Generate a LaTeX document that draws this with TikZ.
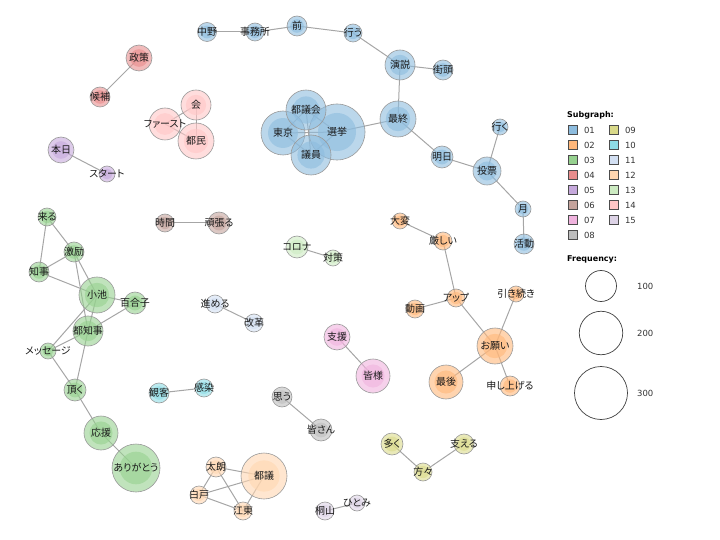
\documentclass[tikz,border=0pt]{standalone}
\usepackage{fontspec}
\newfontfamily\jp[RawFeature=+palt]{Noto Sans CJK JP}
\newfontfamily\legfont{DejaVu Sans}
\usetikzlibrary{positioning,backgrounds}

\definecolor{c01}{HTML}{8DBCDE}
\definecolor{c02}{HTML}{FFB77A}
\definecolor{c03}{HTML}{96D18F}
\definecolor{c04}{HTML}{E88D8D}
\definecolor{c05}{HTML}{C6A9DC}
\definecolor{c06}{HTML}{C4A39C}
\definecolor{c07}{HTML}{F0B3DE}
\definecolor{c08}{HTML}{BDBDBD}
\definecolor{c09}{HTML}{DADA8A}
\definecolor{c10}{HTML}{8EDCE5}
\definecolor{c11}{HTML}{D2DFF2}
\definecolor{c12}{HTML}{FFD6B0}
\definecolor{c13}{HTML}{CDEBC2}
\definecolor{c14}{HTML}{FFC6C6}
\definecolor{c15}{HTML}{DDD3E6}

\tikzset{
  word/.style={circle, draw=gray!80, line width=.6bp, inner sep=0pt,
    fill opacity=.6},
  wordlab/.style={inner sep=0pt, fill opacity=1, text opacity=1, text=black!90,
    font=\jp\fontsize{10}{10}\selectfont},
  link/.style={draw=gray!70, line width=1bp},
  swatch/.style={draw=gray!60!black, line width=.6bp, minimum size=9bp, inner sep=0pt},
  numlab/.style={font=\legfont\fontsize{8.5}{9}\selectfont, text=black!80, inner sep=0pt},
  headlab/.style={font=\legfont\bfseries\fontsize{8}{9}\selectfont, anchor=west, inner sep=0pt},
  freqc/.style={circle, draw=black!75, line width=.7bp, inner sep=0pt}
}

% name, x, y, radius, colour, text
\newcommand{\word}[6]{%
  \fill[#5, opacity=.6] (#2,#3) circle (#4*.68);
  \node[word, fill=#5, minimum size=#4*2bp, label={[wordlab]center:#6}] (#1) at (#2,#3) {};}

\begin{document}
\begin{tikzpicture}[x=1bp, y=-1bp]
\useasboundingbox (0,0) rectangle (720,540);

% subgraph 01
\word{nakano}{207}{32}{9.5}{c01}{中野}
\word{jimusho}{255}{32}{9}{c01}{事務所}
\word{mae}{297}{26}{10}{c01}{前}
\word{okonau}{353}{33}{9}{c01}{行う}
\word{enzetsu}{400}{65}{15}{c01}{演説}
\word{gaito}{443}{70}{10}{c01}{街頭}
\word{saishu}{398}{119}{18}{c01}{最終}
\word{ashita}{442}{157}{11}{c01}{明日}
\word{tohyo}{487}{171}{14}{c01}{投票}
\word{iku}{500}{127}{8}{c01}{行く}
\word{tsuki}{523}{209}{8}{c01}{月}
\word{katsudo}{524}{244}{10}{c01}{活動}
\word{tokyo}{283}{133}{22}{c01}{東京}
\word{senkyo}{337}{132}{28}{c01}{選挙}
\word{togikai}{306}{110}{20}{c01}{都議会}
\word{giin}{311}{155}{20}{c01}{議員}

% subgraph 02
\word{taihen}{400}{221}{8}{c02}{大変}
\word{kibishii}{443}{241}{9}{c02}{厳しい}
\word{appu}{456}{298}{9}{c02}{アップ}
\word{doga}{415}{309}{9}{c02}{動画}
\word{hikitsuzuki}{516}{294}{8}{c02}{引き続き}
\word{onegai}{495}{346}{18}{c02}{お願い}
\word{saigo}{446}{382}{17}{c02}{最後}
\word{moshiageru}{510}{386}{10}{c02}{申し上げる}

% subgraph 03
\word{kuru}{47}{217}{9}{c03}{来る}
\word{gekirei}{74}{252}{10}{c03}{激励}
\word{chiji}{39}{272}{10}{c03}{知事}
\word{koike}{97}{295}{18}{c03}{小池}
\word{yuriko}{135}{303}{11}{c03}{百合子}
\word{tochiji}{88}{331}{15}{c03}{都知事}
\word{message}{48}{351}{8}{c03}{メッセージ}
\word{itadaku}{75}{390}{11}{c03}{頂く}
\word{oen}{101}{433}{17}{c03}{応援}
\word{arigato}{136}{468}{24}{c03}{ありがとう}

% subgraph 04 to 15
\word{seisaku}{139}{58}{13}{c04}{政策}
\word{kouho}{100}{97}{10}{c04}{候補}
\word{honjitsu}{61}{150}{13}{c05}{本日}
\word{start}{107}{174}{8}{c05}{スタート}
\word{jikan}{165}{223}{9}{c06}{時間}
\word{ganbaru}{219}{223}{11}{c06}{頑張る}
\word{shien}{337}{337}{13}{c07}{支援}
\word{minasama}{373}{376}{17}{c07}{皆様}
\word{omou}{282}{397}{10}{c08}{思う}
\word{minasan}{321}{430}{11}{c08}{皆さん}
\word{ooku}{392}{444}{11}{c09}{多く}
\word{katagata}{423}{472}{9}{c09}{方々}
\word{sasaeru}{464}{444}{10}{c09}{支える}
\word{kankyaku}{159}{393}{10}{c10}{観客}
\word{kansen}{204}{388}{9}{c10}{感染}
\word{susumeru}{215}{304}{9}{c11}{進める}
\word{kaikaku}{254}{323}{9}{c11}{改革}
\word{taro}{216}{467}{10}{c12}{太朗}
\word{togi}{264}{476}{23}{c12}{都議}
\word{shirado}{199}{495}{9}{c12}{白戸}
\word{koto}{243}{511}{9}{c12}{江東}
\word{corona}{297}{247}{11}{c13}{コロナ}
\word{taisaku}{333}{258}{8}{c13}{対策}
\word{kai}{196}{105}{15}{c14}{会}
\word{first}{165}{124}{16}{c14}{ファースト}
\word{tomin}{196}{141}{18}{c14}{都民}
\word{kiriyama}{325}{511}{9}{c15}{桐山}
\word{hitomi}{357}{503}{8}{c15}{ひとみ}

\begin{scope}[on background layer]
\draw[link] (nakano.center) -- (jimusho.center);
\draw[link] (jimusho.center) -- (mae.center);
\draw[link] (mae.center) -- (okonau.center);
\draw[link] (okonau.center) -- (enzetsu.center);
\draw[link] (enzetsu.center) -- (gaito.center);
\draw[link] (enzetsu.center) -- (saishu.center);
\draw[link] (saishu.center) -- (senkyo.center);
\draw[link] (saishu.center) -- (ashita.center);
\draw[link] (ashita.center) -- (tohyo.center);
\draw[link] (tohyo.center) -- (iku.center);
\draw[link] (tohyo.center) -- (tsuki.center);
\draw[link] (tsuki.center) -- (katsudo.center);
\draw[link] (tokyo.center) -- (togikai.center);
\draw[link] (tokyo.center) -- (senkyo.center);
\draw[link] (tokyo.center) -- (giin.center);
\draw[link] (togikai.center) -- (senkyo.center);
\draw[link] (togikai.center) -- (giin.center);
\draw[link] (senkyo.center) -- (giin.center);

\draw[link] (taihen.center) -- (kibishii.center);
\draw[link] (kibishii.center) -- (appu.center);
\draw[link] (appu.center) -- (doga.center);
\draw[link] (appu.center) -- (onegai.center);
\draw[link] (onegai.center) -- (hikitsuzuki.center);
\draw[link] (onegai.center) -- (saigo.center);
\draw[link] (onegai.center) -- (moshiageru.center);

\draw[link] (kuru.center) -- (gekirei.center);
\draw[link] (kuru.center) -- (chiji.center);
\draw[link] (gekirei.center) -- (chiji.center);
\draw[link] (gekirei.center) -- (koike.center);
\draw[link] (gekirei.center) -- (tochiji.center);
\draw[link] (chiji.center) -- (koike.center);
\draw[link] (koike.center) -- (yuriko.center);
\draw[link] (koike.center) -- (tochiji.center);
\draw[link] (koike.center) -- (message.center);
\draw[link] (tochiji.center) -- (yuriko.center);
\draw[link] (tochiji.center) -- (message.center);
\draw[link] (tochiji.center) -- (itadaku.center);
\draw[link] (message.center) -- (itadaku.center);
\draw[link] (itadaku.center) -- (oen.center);
\draw[link] (oen.center) -- (arigato.center);

\draw[link] (seisaku.center) -- (kouho.center);
\draw[link] (honjitsu.center) -- (start.center);
\draw[link] (jikan.center) -- (ganbaru.center);
\draw[link] (shien.center) -- (minasama.center);
\draw[link] (omou.center) -- (minasan.center);
\draw[link] (ooku.center) -- (katagata.center);
\draw[link] (katagata.center) -- (sasaeru.center);
\draw[link] (kankyaku.center) -- (kansen.center);
\draw[link] (susumeru.center) -- (kaikaku.center);
\draw[link] (taro.center) -- (togi.center);
\draw[link] (taro.center) -- (shirado.center);
\draw[link] (taro.center) -- (koto.center);
\draw[link] (shirado.center) -- (togi.center);
\draw[link] (shirado.center) -- (koto.center);
\draw[link] (koto.center) -- (togi.center);
\draw[link] (corona.center) -- (taisaku.center);
\draw[link] (first.center) -- (kai.center);
\draw[link] (first.center) -- (tomin.center);
\draw[link] (kai.center) -- (tomin.center);
\draw[link] (kiriyama.center) -- (hitomi.center);
\end{scope}

% legend
\node[headlab] (subhead) at (567,115) {Subgraph:};
\node[swatch, fill=c01] (s01) at (573,130) {};
\node[swatch, fill=c02] (s02) at (573,145) {};
\node[swatch, fill=c03] (s03) at (573,160) {};
\node[swatch, fill=c04] (s04) at (573,175) {};
\node[swatch, fill=c05] (s05) at (573,190) {};
\node[swatch, fill=c06] (s06) at (573,205) {};
\node[swatch, fill=c07] (s07) at (573,220) {};
\node[swatch, fill=c08] (s08) at (573,235) {};
\node[swatch, fill=c09] (s09) at (614,130) {};
\node[swatch, fill=c10] (s10) at (614,145) {};
\node[swatch, fill=c11] (s11) at (614,160) {};
\node[swatch, fill=c12] (s12) at (614,175) {};
\node[swatch, fill=c13] (s13) at (614,190) {};
\node[swatch, fill=c14] (s14) at (614,205) {};
\node[swatch, fill=c15] (s15) at (614,220) {};
\node[numlab, right=6bp of s01] {01};
\node[numlab, right=6bp of s02] {02};
\node[numlab, right=6bp of s03] {03};
\node[numlab, right=6bp of s04] {04};
\node[numlab, right=6bp of s05] {05};
\node[numlab, right=6bp of s06] {06};
\node[numlab, right=6bp of s07] {07};
\node[numlab, right=6bp of s08] {08};
\node[numlab, right=6bp of s09] {09};
\node[numlab, right=6bp of s10] {10};
\node[numlab, right=6bp of s11] {11};
\node[numlab, right=6bp of s12] {12};
\node[numlab, right=6bp of s13] {13};
\node[numlab, right=6bp of s14] {14};
\node[numlab, right=6bp of s15] {15};

\node[headlab] (freqhead) at (567,259) {Frequency:};
\node[freqc, minimum size=31bp] (f100) at (601,286) {};
\node[freqc, minimum size=43.5bp] (f200) at (601,333) {};
\node[freqc, minimum size=53bp] (f300) at (601,393) {};
\node[numlab, anchor=west] (l100) at (637,286) {100};
\node[numlab, anchor=west] (l200) at (637,333) {200};
\node[numlab, anchor=west] (l300) at (637,393) {300};

\end{tikzpicture}
\end{document}
